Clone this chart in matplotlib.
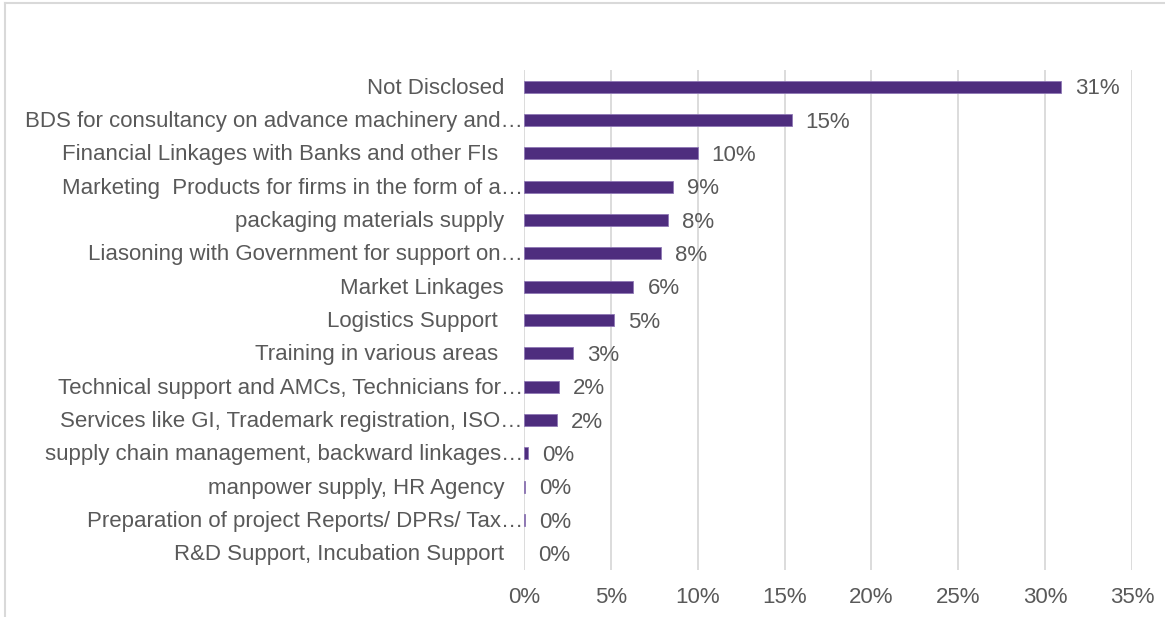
import matplotlib
matplotlib.use("Agg")
import matplotlib.pyplot as plt
import matplotlib.transforms as mtransforms
from matplotlib.lines import Line2D

categories = [
    "Not Disclosed",
    "BDS for consultancy on advance machinery and…",
    "Financial Linkages with Banks and other FIs ",
    "Marketing  Products for firms in the form of a…",
    "packaging materials supply",
    "Liasoning with Government for support on…",
    "Market Linkages",
    "Logistics Support ",
    "Training in various areas ",
    "Technical support and AMCs, Technicians for…",
    "Services like GI, Trademark registration, ISO…",
    "supply chain management, backward linkages…",
    "manpower supply, HR Agency",
    "Preparation of project Reports/ DPRs/ Tax…",
    "R&D Support, Incubation Support",
]
values = [30.9, 15.4, 10.0, 8.6, 8.3, 7.9, 6.3, 5.2, 2.8, 2.0, 1.9, 0.25, 0.08, 0.08, 0.0]
xticks = [0, 5, 10, 15, 20, 25, 30, 35]

plt.rcParams['font.family'] = ['Liberation Sans', 'DejaVu Sans']
TEXT = '#595959'
GRID = '#d9d9d9'
BAR = '#4e2d7e'
FS = 16

fig = plt.figure(figsize=(11.65, 6.17), dpi=100)
ax = fig.add_axes([524/1165, 1-570/617, (1132-524)/1165, 500/617])

pos = list(range(len(categories)))
ax.barh(pos, values, height=0.36, color=BAR, edgecolor='#8f78b5',
        linewidth=[0.6 if v > 0 else 0 for v in values], zorder=3)
ax.set_ylim(len(categories) - 0.5, -0.5)
ax.set_xlim(0, 35)
ax.set_xticks(xticks)
ax.set_xticklabels([f"{t}%" for t in xticks], fontsize=FS, color=TEXT)
ax.tick_params(axis='x', length=0, pad=12)
ax.set_yticks([])
ax.grid(axis='x', color=GRID, linewidth=1.3, zorder=0)
for s in ['top', 'right', 'bottom', 'left']:
    ax.spines[s].set_visible(False)

# category labels
for p, lab in zip(pos, categories):
    off = -1 if lab.endswith("…") else -20
    tr = ax.get_yaxis_transform() + mtransforms.ScaledTranslation(off/100, -1.5/100, fig.dpi_scale_trans)
    ax.text(0, p, lab, transform=tr, ha='right', va='center', fontsize=FS, color=TEXT)

# data labels
for p, v in zip(pos, values):
    tr = ax.transData + mtransforms.ScaledTranslation(14/100, -2/100, fig.dpi_scale_trans)
    ax.text(v, p, f"{round(v):.0f}%", transform=tr, ha='left', va='center', fontsize=FS, color=TEXT)

# chart border (top and left)
fig.add_artist(Line2D([5/1165, 1], [1-3/617, 1-3/617], transform=fig.transFigure, color=GRID, linewidth=1.5))
fig.add_artist(Line2D([5/1165, 5/1165], [0, 1-3/617], transform=fig.transFigure, color=GRID, linewidth=1.5))

fig.savefig("out.png", dpi=100, facecolor='white')
